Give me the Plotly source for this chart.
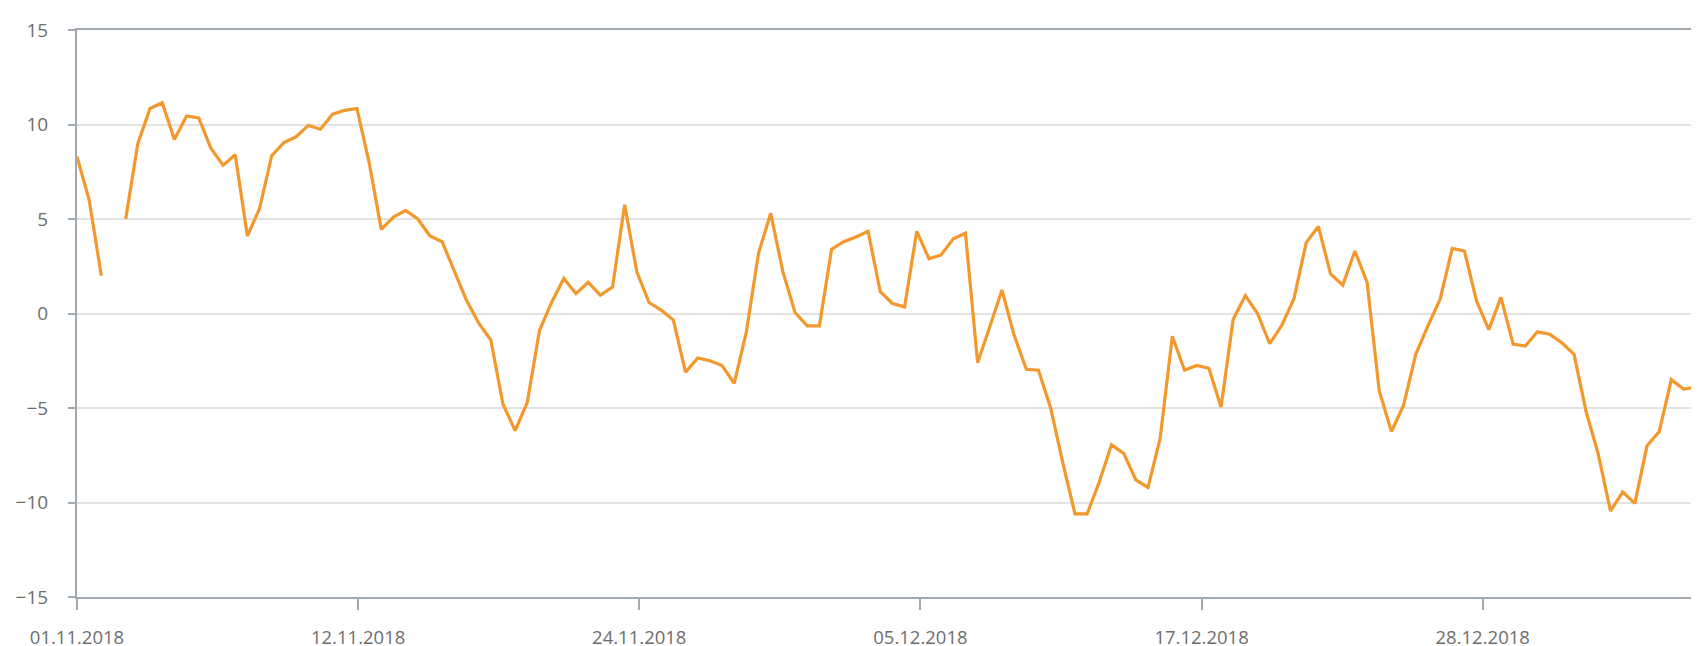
import pandas as pd
import plotly.graph_objects as go

# Values every 12 hours starting 01.11.2018 (None = missing reading)
values = [
    8.3, 6.0, 2.0, None, 5.0, 9.0, 10.85, 11.15, 9.2, 10.45,
    10.35, 8.75, 7.85, 8.4, 4.1, 5.55, 8.35, 9.05, 9.35, 9.95,
    9.75, 10.55, 10.75, 10.85, 8.0, 4.45, 5.1, 5.45, 5.0, 4.1,
    3.8, 2.2, 0.7, -0.5, -1.4, -4.8, -6.2, -4.7, -0.9, 0.6,
    1.85, 1.05, 1.65, 0.97, 1.4, 5.75, 2.2, 0.58, 0.18, -0.35,
    -3.1, -2.35, -2.5, -2.75, -3.7, -0.97, 3.2, 5.3, 2.2, 0.05,
    -0.65, -0.65, 3.4, 3.8, 4.05, 4.35, 1.15, 0.53, 0.35, 4.35,
    2.9, 3.1, 3.95, 4.25, -2.6, -0.7, 1.24, -1.15, -2.95, -3.0,
    -5.0, -7.9, -10.6, -10.6, -8.9, -6.95, -7.4, -8.8, -9.2, -6.6,
    -1.2, -3.0, -2.75, -2.9, -4.95, -0.3, 0.95, 0.0, -1.6, -0.62,
    0.8, 3.75, 4.6, 2.1, 1.5, 3.3, 1.65, -4.1, -6.25, -4.85,
    -2.15, -0.65, 0.75, 3.45, 3.3, 0.65, -0.85, 0.85, -1.62, -1.72,
    -0.97, -1.1, -1.55, -2.15, -5.2, -7.45, -10.45, -9.45, -10.05, -7.0,
    -6.25, -3.5, -4.0, -3.9, -4.0, -4.5,
]
start_date = "2018-11-01 00:00"
dates = pd.date_range(start_date, periods=len(values), freq="12h")

# Tick marks sit every ~11.55 days on the reference axis
tick_dates = ["2018-11-01 00:00", "2018-11-12 13:12", "2018-11-24 02:24",
              "2018-12-05 15:36", "2018-12-17 04:48", "2018-12-28 18:00"]
tick_labels = ["01.11.2018", "12.11.2018", "24.11.2018",
               "05.12.2018", "17.12.2018", "28.12.2018"]
y_ticks = [-15, -10, -5, 0, 5, 10, 15]

fig = go.Figure()
fig.add_trace(go.Scatter(
    x=dates, y=values, mode="lines",
    line=dict(color="#F2982C", width=3.2),
    connectgaps=False, hoverinfo="skip", showlegend=False,
))

axis_col = "#A3A9B0"
font_col = "#6E6E6E"
x_end = pd.Timestamp(start_date) + pd.Timedelta(hours=12 * 133.93)

fig.update_layout(
    width=1699, height=646,
    margin=dict(l=69, r=0, t=22, b=57),
    paper_bgcolor="white", plot_bgcolor="white",
    font=dict(family="Open Sans", size=18, color=font_col),
    xaxis=dict(
        type="date",
        range=[pd.Timestamp(start_date), x_end],
        tickvals=pd.to_datetime(tick_dates), ticktext=tick_labels,
        showgrid=False, zeroline=False,
        showline=True, linecolor=axis_col, linewidth=2, mirror=True,
        ticks="outside", ticklen=11, tickwidth=1.5, tickcolor=axis_col,
        ticklabelstandoff=12,
        tickfont=dict(size=18.5, color=font_col),
    ),
    yaxis=dict(
        range=[-15, 15], tickvals=y_ticks,
        showgrid=True, gridcolor="#E3E3E3", gridwidth=1.5,
        zeroline=False,
        showline=True, linecolor=axis_col, linewidth=2,
        ticks="outside", ticklen=7, tickwidth=1.5, tickcolor=axis_col,
        ticklabelstandoff=16,
        tickfont=dict(size=19, color=font_col),
    ),
)

fig.write_html("out.html")
